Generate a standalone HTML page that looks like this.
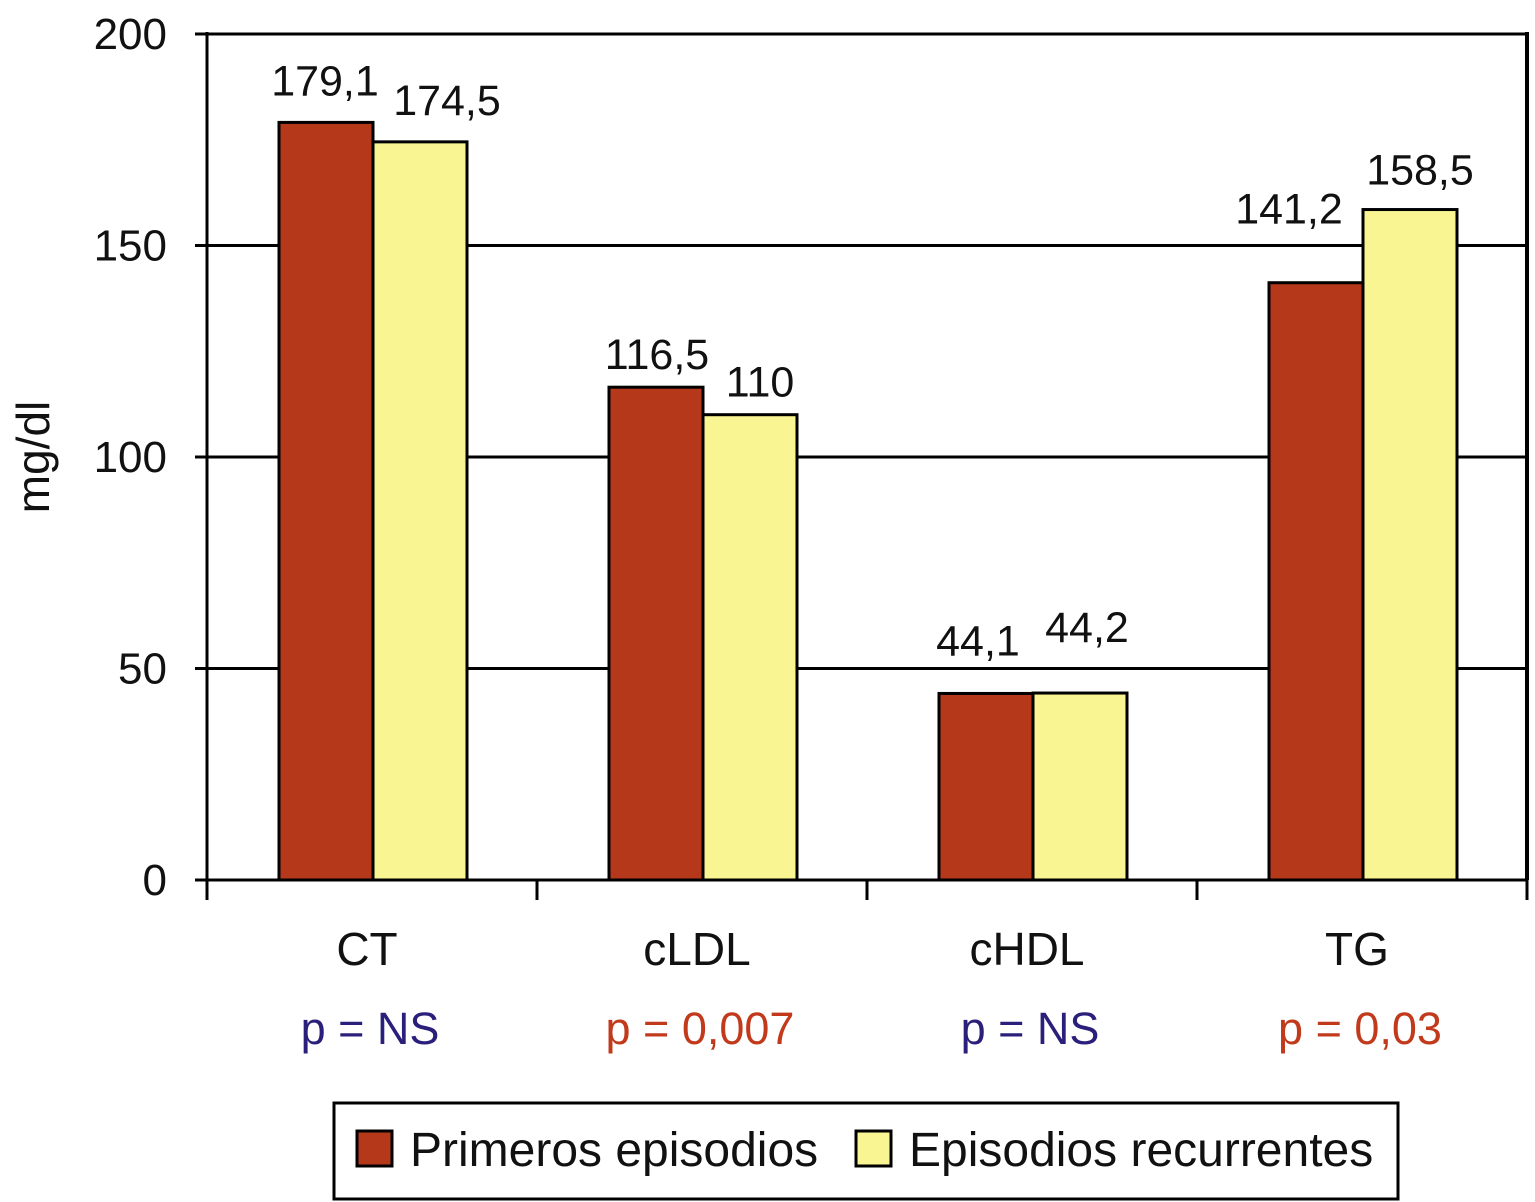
<!DOCTYPE html>
<html><head><meta charset="utf-8"><style>
body{margin:0;background:#fff;}
svg{display:block;font-family:"Liberation Sans",Arial,sans-serif;}
</style></head><body>
<svg id="chart" width="1535" height="1202"></svg>
<script>
const categories=["CT","cLDL","cHDL","TG"];
const primeros=[179.1,116.5,44.1,141.2];
const recurrentes=[174.5,110,44.2,158.5];
const primerosLabels=["179,1","116,5","44,1","141,2"];
const recurrentesLabels=["174,5","110","44,2","158,5"];
const pLabels=["p = NS","p = 0,007","p = NS","p = 0,03"];
const pColors=["#2a1f7a","#c23a1c","#2a1f7a","#c23a1c"];
const yTicks=[0,50,100,150,200];

// label placement nudges (pixels) relative to default position above each bar
const nudgeP=[[-1,-27],[1,-18],[-8,-38],[-27,-59]];
const nudgeR=[[27,-27],[10,-18],[7,-51],[10,-25]];

const NS="http://www.w3.org/2000/svg";
const svg=document.getElementById('chart');
const L=207,R=1527,T=34,B=880;
const y=v=>B-(v/200)*(B-T);
const gw=(R-L)/categories.length;
const gx=i=>L+i*gw;
function mk(tag,attrs,text){const e=document.createElementNS(NS,tag);for(const k in attrs)e.setAttribute(k,attrs[k]);if(text!==undefined)e.textContent=text;svg.appendChild(e);return e;}

yTicks.forEach(t=>{
  if(t>0){const g=mk('line',{x1:L,x2:R,y1:y(t),y2:y(t),stroke:'#000','stroke-width':3});
  
  }
  const tk=mk('line',{x1:L-12,x2:L,y1:y(t),y2:y(t),stroke:'#000','stroke-width':3});
  
  
  const lb=mk('text',{x:L-40,y:y(t)+15,'text-anchor':'end','font-size':44,fill:'#111'},String(t));
  
  
});
const rb=mk('line',{x1:R,x2:R,y1:T-2,y2:B,stroke:'#000','stroke-width':4});


const yl=mk('text',{transform:'translate(49,457) rotate(-90)','text-anchor':'middle','font-size':46,fill:'#111'},'mg/dl');



const bw=94,off=72;
categories.forEach((c,i)=>{
  const x0=gx(i)+off;
  [[primeros,primerosLabels,'#b5381b','primeros',nudgeP],[recurrentes,recurrentesLabels,'#f9f592','recurrentes',nudgeR]].forEach((s,j)=>{
    const v=s[0][i];const bx=x0+j*bw;
    const r=mk('rect',{x:bx,y:y(v),width:bw,height:B-y(v),fill:s[2],stroke:'#000','stroke-width':3});
    
    
    const n=s[4][i];
    const t=mk('text',{x:bx+bw/2+n[0],y:y(v)+n[1],'text-anchor':'middle','font-size':43,fill:'#111'},s[1][i]);
    
    
  });
  const cl=mk('text',{x:gx(i)+gw/2-5,y:965,'text-anchor':'middle','font-size':46,fill:'#111'},c);
  
  
  const pl=mk('text',{x:gx(i)+gw/2-2,y:1044,'text-anchor':'middle','font-size':45,fill:pColors[i]},pLabels[i]);
  
  
});
for(let i=0;i<=categories.length;i++){
  const tk=mk('line',{x1:gx(i),x2:gx(i),y1:B,y2:B+20,stroke:'#000','stroke-width':3});
  
  
}
const xa=mk('line',{x1:L-12,x2:R,y1:B,y2:B,stroke:'#000','stroke-width':3});


const ya=mk('line',{x1:L,x2:L,y1:T-2,y2:B+20,stroke:'#000','stroke-width':3});



const lg=mk('rect',{x:334,y:1103,width:1064,height:96,fill:'#fff',stroke:'#000','stroke-width':3});


const s1=mk('rect',{x:357,y:1131,width:35,height:35,fill:'#b5381b',stroke:'#000','stroke-width':3});


const t1=mk('text',{x:410,y:1166,'font-size':48,fill:'#111'},'Primeros episodios');


const s2=mk('rect',{x:856,y:1131,width:35,height:35,fill:'#f9f592',stroke:'#000','stroke-width':3});


const t2=mk('text',{x:909,y:1166,'font-size':48,fill:'#111'},'Episodios recurrentes');


</script>
</body></html>
